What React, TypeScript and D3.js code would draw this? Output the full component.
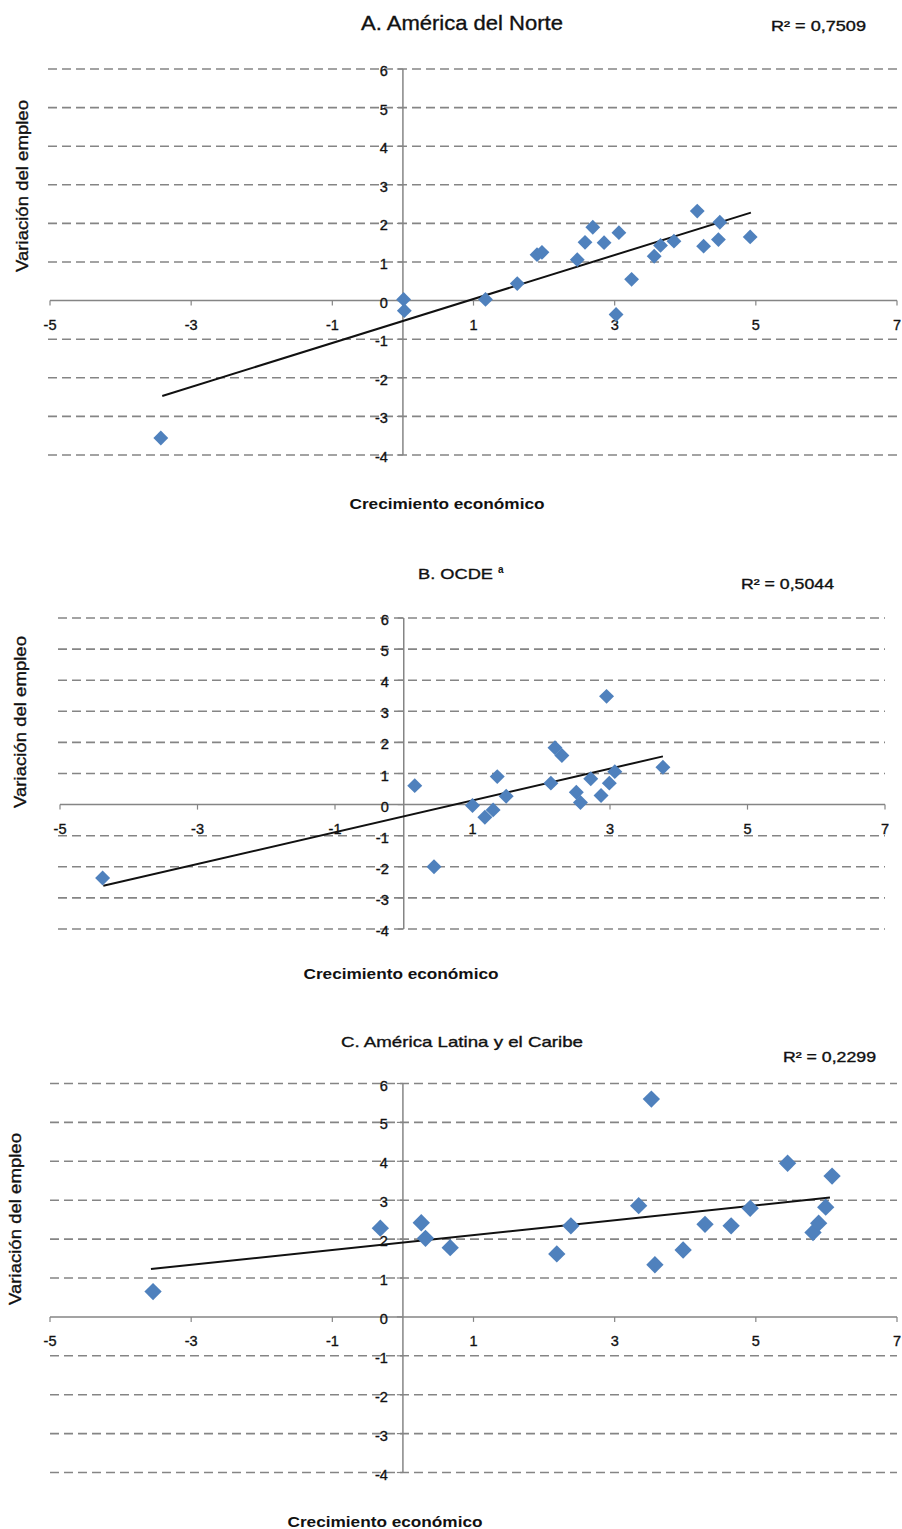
import React from "react";
import * as d3 from "d3";

// ---------- DATA ----------
const xTicks = [-5, -3, -1, 1, 3, 5, 7];
const yTicks = [-4, -3, -2, -1, 0, 1, 2, 3, 4, 5, 6];

const titleA = "A. América del Norte";
const r2A = "R² = 0,7509";
const xA = [-3.43, 0.01, 0.02, 1.17, 1.62, 1.9, 1.97, 2.47, 2.58, 2.69, 2.85, 3.06, 3.02, 3.24, 3.56, 3.65, 3.84, 4.17, 4.26, 4.47, 4.49, 4.92];
const yA = [-3.56, 0.03, -0.26, 0.03, 0.44, 1.19, 1.25, 1.06, 1.51, 1.9, 1.5, 1.76, -0.36, 0.55, 1.15, 1.43, 1.54, 2.32, 1.41, 1.58, 2.03, 1.65];
const trendXA = [-3.41, 4.93];
const trendYA = [-2.47, 2.28];

const titleB = "B. OCDE";
const titleBNote = "a";
const r2B = "R² = 0,5044";
const xB = [-4.38, 0.16, 0.44, 1.0, 1.18, 1.3, 1.36, 1.49, 2.14, 2.2, 2.3, 2.51, 2.57, 2.72, 2.87, 2.95, 2.99, 3.07, 3.77];
const yB = [-2.36, 0.61, -2.0, -0.03, -0.41, -0.17, 0.9, 0.27, 0.69, 1.83, 1.58, 0.4, 0.07, 0.83, 0.29, 3.48, 0.69, 1.06, 1.2];
const trendXB = [-4.37, 3.77];
const trendYB = [-2.61, 1.55];

const titleC = "C. América Latina y el Caribe";
const r2C = "R² = 0,2299";
const xC = [-3.54, -0.32, 0.26, 0.32, 0.67, 2.18, 2.38, 3.34, 3.52, 3.57, 3.97, 4.28, 4.65, 4.92, 5.45, 5.81, 5.89, 5.99, 6.08];
const yC = [0.65, 2.28, 2.42, 2.02, 1.78, 1.62, 2.34, 2.86, 5.6, 1.34, 1.72, 2.38, 2.34, 2.79, 3.95, 2.17, 2.41, 2.82, 3.62];
const trendXC = [-3.57, 6.05];
const trendYC = [1.23, 3.07];

const yAxisTitle = "Variación del empleo";
const xAxisTitle = "Crecimiento económico";

// ---------- LAYOUT ----------
const FONT = "'Liberation Sans', Arial, sans-serif";
const GRID = "#858585";
const AXIS = "#858585";
const BLUE = "#4f81bd";
const INK = "#111";

type PanelProps = {
  xs: number[];
  ys: number[];
  tx: number[];
  ty: number[];
  xRange: [number, number];
  yRange: [number, number];
  gridX: [number, number];
  marker: number;
  title: React.ReactNode;
  r2: string;
  r2Pos: { x: number; y: number; w: number };
  yTitle: { x: number; y: number };
  xTitle: { x: number; y: number };
};

const heavy = { stroke: INK, strokeWidth: 0.35 };

function Panel(p: PanelProps) {
  const x = d3.scaleLinear().domain([-5, 7]).range(p.xRange);
  const y = d3.scaleLinear().domain([-4, 6]).range(p.yRange);
  const x0 = x(0);
  const y0 = y(0);
  const sym = d3.symbol().type(d3.symbolSquare).size(p.marker)();
  const line = d3
    .line<number>()
    .x((d) => x(p.tx[d]))
    .y((d) => y(p.ty[d]));
  return (
    <g>
      {yTicks
        .filter((t) => t !== 0)
        .map((t) => (
          <line
            key={"g" + t}
            x1={p.gridX[0]}
            x2={p.gridX[1]}
            y1={y(t)}
            y2={y(t)}
            stroke={GRID}
            strokeWidth={1.6}
            strokeDasharray="9,5"
          />
        ))}
      {/* x axis */}
      <line x1={x(-5)} x2={x(7)} y1={y0} y2={y0} stroke={AXIS} strokeWidth={1.5} />
      {xTicks.map((t) => (
        <g key={"xt" + t}>
          <line x1={x(t)} x2={x(t)} y1={y0} y2={y0 + 5} stroke={AXIS} strokeWidth={1.2} />
          <text
            x={x(t)}
            y={y0 + 29}
            textAnchor="middle"
            fontFamily={FONT}
            fontSize={14.5}
            fill={INK}
            {...heavy}
          >
            {t}
          </text>
        </g>
      ))}
      {/* y axis */}
      <line x1={x0} x2={x0} y1={y(6)} y2={y(-4)} stroke={AXIS} strokeWidth={1.5} />
      {yTicks.map((t) => (
        <g key={"yt" + t}>
          <line x1={x0 - 6} x2={x0} y1={y(t)} y2={y(t)} stroke={AXIS} strokeWidth={1.2} />
          <text
            x={x0 - 15}
            y={y(t) + 7}
            textAnchor="end"
            fontFamily={FONT}
            fontSize={14.5}
            fill={INK}
            {...heavy}
          >
            {t}
          </text>
        </g>
      ))}
      {/* trend */}
      <path d={line([0, 1]) || ""} stroke="#111" strokeWidth={2} fill="none" />
      {/* points */}
      {p.xs.map((v, i) => (
        <path
          key={"p" + i}
          d={sym || ""}
          transform={`translate(${x(v)},${y(p.ys[i])}) rotate(45)`}
          fill={BLUE}
        />
      ))}
      {p.title}
      <text
        x={p.r2Pos.x}
        y={p.r2Pos.y}
        fontFamily={FONT}
        fontSize={14}
        textLength={p.r2Pos.w}
        lengthAdjust="spacingAndGlyphs"
        fill={INK}
        {...heavy}
      >
        {p.r2}
      </text>
      <text
        transform={`translate(${p.yTitle.x},${p.yTitle.y}) rotate(-90)`}
        textAnchor="middle"
        fontFamily={FONT}
        fontSize={17}
        textLength={172}
        lengthAdjust="spacingAndGlyphs"
        fill={INK}
        {...heavy}
      >
        {yAxisTitle}
      </text>
      <text
        x={p.xTitle.x}
        y={p.xTitle.y}
        textAnchor="middle"
        fontFamily={FONT}
        fontSize={15}
        fontWeight="bold"
        textLength={195}
        lengthAdjust="spacingAndGlyphs"
        fill={INK}
      >
        {xAxisTitle}
      </text>
    </g>
  );
}

export default function App() {
  return (
    <svg
      width={902}
      height={1529}
      style={{ position: "absolute", left: 0, top: 0, background: "#fff" }}
    >
      <rect width={902} height={1529} fill="#fff" />
      <Panel
        xs={xA}
        ys={yA}
        tx={trendXA}
        ty={trendYA}
        xRange={[50, 897]}
        yRange={[455, 69]}
        gridX={[48, 897]}
        marker={110}
        title={
          <text
            x={361}
            y={30}
            fontFamily={FONT}
            fontSize={21}
            textLength={202}
            lengthAdjust="spacingAndGlyphs"
            fill={INK}
            {...heavy}
          >
            {titleA}
          </text>
        }
        r2={r2A}
        r2Pos={{ x: 771, y: 31, w: 95 }}
        yTitle={{ x: 28, y: 186 }}
        xTitle={{ x: 447, y: 509 }}
      />
      <Panel
        xs={xB}
        ys={yB}
        tx={trendXB}
        ty={trendYB}
        xRange={[60, 885]}
        yRange={[929, 618]}
        gridX={[58, 885]}
        marker={112}
        title={
          <g>
            <text
              x={418}
              y={579}
              fontFamily={FONT}
              fontSize={15}
              textLength={75}
              lengthAdjust="spacingAndGlyphs"
              fill={INK}
              {...heavy}
            >
              {titleB}
            </text>
            <text x={498} y={573} fontFamily={FONT} fontSize={10} fontWeight="bold" fill={INK}>
              {titleBNote}
            </text>
          </g>
        }
        r2={r2B}
        r2Pos={{ x: 741, y: 589, w: 93 }}
        yTitle={{ x: 26, y: 722 }}
        xTitle={{ x: 401, y: 979 }}
      />
      <Panel
        xs={xC}
        ys={yC}
        tx={trendXC}
        ty={trendYC}
        xRange={[50, 897]}
        yRange={[1472.5, 1083.5]}
        gridX={[50, 897]}
        marker={150}
        title={
          <text
            x={341}
            y={1047}
            fontFamily={FONT}
            fontSize={15}
            textLength={242}
            lengthAdjust="spacingAndGlyphs"
            fill={INK}
            {...heavy}
          >
            {titleC}
          </text>
        }
        r2={r2C}
        r2Pos={{ x: 783, y: 1062, w: 93 }}
        yTitle={{ x: 21, y: 1219 }}
        xTitle={{ x: 385, y: 1527 }}
      />
    </svg>
  );
}
